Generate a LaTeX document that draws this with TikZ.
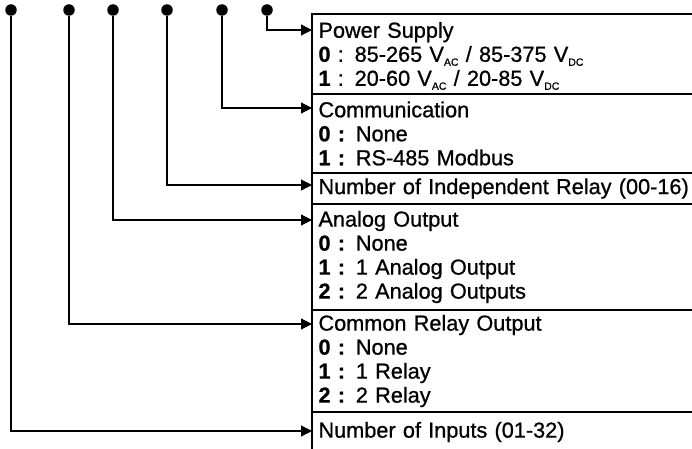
\documentclass[tikz,border=0pt]{standalone}
\usepackage{fontspec}
\setmainfont{Liberation Sans}[FakeBold=0.8]
\usetikzlibrary{arrows.meta, positioning}

% V with a small lowered index
\newcommand{\vsub}[1]{V\raisebox{-4pt}[0pt][0pt]{\fontsize{10.5}{11}\selectfont #1}}

\begin{document}
\begin{tikzpicture}[
  x=1pt, y=1pt,
  every node/.style={font=\fontsize{21.7}{24}\selectfont},
  sect/.style={draw, line width=2.6pt, outer sep=0pt, inner xsep=6.5pt,
               inner ysep=0pt, text width=420pt, align=left},
  dot/.style={circle, fill, inner sep=0pt, minimum size=11.5pt},
  feed/.style={-{Triangle[length=11pt, width=11pt]}, line width=1.2pt},
]
\useasboundingbox (0,0) rectangle (692,448);
\clip (0,0) rectangle (692,448);

%% code sections
\node[sect, anchor=north west, minimum height=80pt] (pwr) at (312,434)
  {Power Supply\\
   \textbf{0} : 85-265 \vsub{AC} / 85-375 \vsub{DC}\\
   \textbf{1} : 20-60 \vsub{AC} / 20-85 \vsub{DC}};
\node[sect, minimum height=79pt, below=0pt of pwr] (comm)
  {Communication\\ \textbf{0 :} None\\ \textbf{1 :} RS-485 Modbus};
\node[sect, minimum height=31pt, below=0pt of comm] (relay)
  {Number of Independent Relay (00-16)};
\node[sect, minimum height=106pt, below=0pt of relay] (aout)
  {Analog Output\\ \textbf{0 :} None\\ \textbf{1 :} 1 Analog Output\\
   \textbf{2 :} 2 Analog Outputs};
\node[sect, minimum height=102pt, below=0pt of aout] (crel)
  {Common Relay Output\\ \textbf{0 :} None\\ \textbf{1 :} 1 Relay\\
   \textbf{2 :} 2 Relay};
\node[sect, minimum height=40pt, below=0pt of crel] (inp)
  {Number of Inputs (01-32)};

%% code digits
\node[dot] (d1) at (11,438) {};
\node[dot] (d2) at (69,438) {};
\node[dot] (d3) at (113,438) {};
\node[dot] (d4) at (167,438) {};
\node[dot] (d5) at (222,438) {};
\node[dot] (d6) at (267,438) {};

%% digit to section
\draw[feed] (d6) |- ([yshift=-16pt]pwr.north west);
\draw[feed] (d5) |- ([yshift=-14pt]comm.north west);
\draw[feed] (d4) |- ([yshift=-12pt]relay.north west);
\draw[feed] (d3) |- ([yshift=-16pt]aout.north west);
\draw[feed] (d2) |- ([yshift=-14pt]crel.north west);
\draw[feed] (d1) |- ([yshift=-19pt]inp.north west);

\end{tikzpicture}
\end{document}
